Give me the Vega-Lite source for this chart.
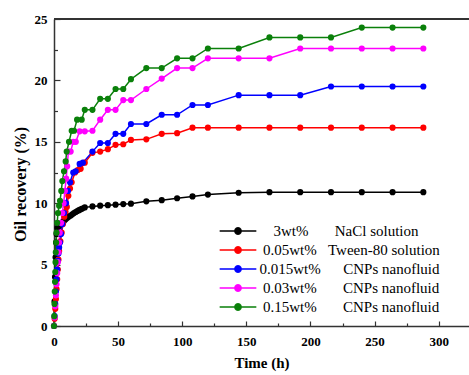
{
  "$schema": "https://vega.github.io/schema/vega-lite/v6.json",
  "width": 415,
  "height": 307,
  "autosize": {"type": "none"},
  "padding": {"left": 54, "top": 19, "right": 0, "bottom": 49},
  "background": "white",
  "config": {
    "view": {"stroke": null},
    "axis": {
      "labelFont": "Liberation Serif", "titleFont": "Liberation Serif",
      "labelFontWeight": "bold", "titleFontWeight": "bold",
      "labelColor": "#000", "titleColor": "#000",
      "domainColor": "#333", "tickColor": "#333", "domainWidth": 1.5, "tickWidth": 1.2,
      "grid": false, "labelFontSize": 13
    },
    "legend": {
      "orient": "none", "legendX": 176, "legendY": 204, "title": null, "padding": 0,
      "symbolType": "M-2.62,0H2.62M0.45,0L0.39,0.225L0.225,0.39L0,0.45L-0.225,0.39L-0.39,0.225L-0.45,0L-0.39,-0.225L-0.225,-0.39L0,-0.45L0.225,-0.39L0.39,-0.225Z",
      "symbolSize": 196, "symbolStrokeWidth": 1.5,
      "labelFont": "Liberation Serif", "labelFontSize": 15, "labelColor": "#000", "labelOffset": 13.5, "labelLimit": 400,
      "rowPadding": 3
    }
  },
  "datasets": {
    "rec": [
      {"s":"3wt% NaCl solution","t":0,"v":0},{"s":"3wt% NaCl solution","t":0.4,"v":2.0},{"s":"3wt% NaCl solution","t":0.8,"v":4.0},{"s":"3wt% NaCl solution","t":1.2,"v":5.6},{"s":"3wt% NaCl solution","t":1.6,"v":6.8},{"s":"3wt% NaCl solution","t":2,"v":7.5},{"s":"3wt% NaCl solution","t":2.6,"v":8.0},{"s":"3wt% NaCl solution","t":3.9,"v":8.15},{"s":"3wt% NaCl solution","t":5.2,"v":8.3},{"s":"3wt% NaCl solution","t":6.5,"v":8.45},{"s":"3wt% NaCl solution","t":7.8,"v":8.55},{"s":"3wt% NaCl solution","t":9.1,"v":8.7},{"s":"3wt% NaCl solution","t":10.4,"v":8.82},{"s":"3wt% NaCl solution","t":11.7,"v":8.92},{"s":"3wt% NaCl solution","t":13,"v":9.0},{"s":"3wt% NaCl solution","t":14.3,"v":9.1},{"s":"3wt% NaCl solution","t":15.6,"v":9.2},{"s":"3wt% NaCl solution","t":16.9,"v":9.28},{"s":"3wt% NaCl solution","t":18.2,"v":9.36},{"s":"3wt% NaCl solution","t":19.5,"v":9.43},{"s":"3wt% NaCl solution","t":20.8,"v":9.5},{"s":"3wt% NaCl solution","t":22.1,"v":9.56},{"s":"3wt% NaCl solution","t":24,"v":9.66},{"s":"3wt% NaCl solution","t":30,"v":9.74},{"s":"3wt% NaCl solution","t":36,"v":9.8},{"s":"3wt% NaCl solution","t":42,"v":9.84},{"s":"3wt% NaCl solution","t":48,"v":9.88},{"s":"3wt% NaCl solution","t":54,"v":9.93},{"s":"3wt% NaCl solution","t":60,"v":9.96},{"s":"3wt% NaCl solution","t":72,"v":10.15},{"s":"3wt% NaCl solution","t":84,"v":10.25},{"s":"3wt% NaCl solution","t":96,"v":10.4},{"s":"3wt% NaCl solution","t":108,"v":10.55},{"s":"3wt% NaCl solution","t":120,"v":10.7},{"s":"3wt% NaCl solution","t":144,"v":10.85},{"s":"3wt% NaCl solution","t":168,"v":10.9},{"s":"3wt% NaCl solution","t":192,"v":10.9},{"s":"3wt% NaCl solution","t":216,"v":10.9},{"s":"3wt% NaCl solution","t":240,"v":10.9},{"s":"3wt% NaCl solution","t":264,"v":10.9},{"s":"3wt% NaCl solution","t":288,"v":10.9},

      {"s":"0.05wt% Tween-80 solution","t":0,"v":0},{"s":"0.05wt% Tween-80 solution","t":0.5,"v":0.6},{"s":"0.05wt% Tween-80 solution","t":1,"v":1.4},{"s":"0.05wt% Tween-80 solution","t":1.5,"v":2.2},{"s":"0.05wt% Tween-80 solution","t":2,"v":3.0},{"s":"0.05wt% Tween-80 solution","t":2.5,"v":3.8},{"s":"0.05wt% Tween-80 solution","t":3,"v":4.6},{"s":"0.05wt% Tween-80 solution","t":3.5,"v":5.4},{"s":"0.05wt% Tween-80 solution","t":4,"v":6.1},{"s":"0.05wt% Tween-80 solution","t":5,"v":6.9},{"s":"0.05wt% Tween-80 solution","t":6,"v":7.6},{"s":"0.05wt% Tween-80 solution","t":7,"v":8.3},{"s":"0.05wt% Tween-80 solution","t":8,"v":8.9},{"s":"0.05wt% Tween-80 solution","t":9,"v":9.3},{"s":"0.05wt% Tween-80 solution","t":10,"v":9.7},{"s":"0.05wt% Tween-80 solution","t":11.2,"v":10.6},{"s":"0.05wt% Tween-80 solution","t":12.5,"v":11.2},{"s":"0.05wt% Tween-80 solution","t":13.8,"v":11.7},{"s":"0.05wt% Tween-80 solution","t":16.4,"v":12.5},{"s":"0.05wt% Tween-80 solution","t":18.5,"v":12.7},{"s":"0.05wt% Tween-80 solution","t":20.8,"v":12.8},{"s":"0.05wt% Tween-80 solution","t":24,"v":13.3},{"s":"0.05wt% Tween-80 solution","t":30,"v":14.1},{"s":"0.05wt% Tween-80 solution","t":36,"v":14.2},{"s":"0.05wt% Tween-80 solution","t":42,"v":14.4},{"s":"0.05wt% Tween-80 solution","t":48,"v":14.75},{"s":"0.05wt% Tween-80 solution","t":54,"v":14.8},{"s":"0.05wt% Tween-80 solution","t":60,"v":15.15},{"s":"0.05wt% Tween-80 solution","t":72,"v":15.2},{"s":"0.05wt% Tween-80 solution","t":84,"v":15.65},{"s":"0.05wt% Tween-80 solution","t":96,"v":15.7},{"s":"0.05wt% Tween-80 solution","t":108,"v":16.15},{"s":"0.05wt% Tween-80 solution","t":120,"v":16.15},{"s":"0.05wt% Tween-80 solution","t":144,"v":16.15},{"s":"0.05wt% Tween-80 solution","t":168,"v":16.15},{"s":"0.05wt% Tween-80 solution","t":192,"v":16.15},{"s":"0.05wt% Tween-80 solution","t":216,"v":16.15},{"s":"0.05wt% Tween-80 solution","t":240,"v":16.15},{"s":"0.05wt% Tween-80 solution","t":264,"v":16.15},{"s":"0.05wt% Tween-80 solution","t":288,"v":16.15},

      {"s":"0.015wt% CNPs nanofluid","t":0,"v":0},{"s":"0.015wt% CNPs nanofluid","t":0.5,"v":0.8},{"s":"0.015wt% CNPs nanofluid","t":1,"v":1.8},{"s":"0.015wt% CNPs nanofluid","t":1.5,"v":2.8},{"s":"0.015wt% CNPs nanofluid","t":2,"v":3.8},{"s":"0.015wt% CNPs nanofluid","t":2.5,"v":4.6},{"s":"0.015wt% CNPs nanofluid","t":3,"v":5.3},{"s":"0.015wt% CNPs nanofluid","t":3.5,"v":5.9},{"s":"0.015wt% CNPs nanofluid","t":4,"v":6.4},{"s":"0.015wt% CNPs nanofluid","t":4.7,"v":6.8},{"s":"0.015wt% CNPs nanofluid","t":5.5,"v":7.5},{"s":"0.015wt% CNPs nanofluid","t":6.5,"v":8.3},{"s":"0.015wt% CNPs nanofluid","t":7.8,"v":9.2},{"s":"0.015wt% CNPs nanofluid","t":9.4,"v":10.0},{"s":"0.015wt% CNPs nanofluid","t":10.9,"v":11.0},{"s":"0.015wt% CNPs nanofluid","t":12.5,"v":11.7},{"s":"0.015wt% CNPs nanofluid","t":15,"v":12.5},{"s":"0.015wt% CNPs nanofluid","t":16.9,"v":12.6},{"s":"0.015wt% CNPs nanofluid","t":20,"v":13.2},{"s":"0.015wt% CNPs nanofluid","t":22.5,"v":13.3},{"s":"0.015wt% CNPs nanofluid","t":30,"v":14.2},{"s":"0.015wt% CNPs nanofluid","t":36,"v":14.9},{"s":"0.015wt% CNPs nanofluid","t":42,"v":14.9},{"s":"0.015wt% CNPs nanofluid","t":48,"v":15.65},{"s":"0.015wt% CNPs nanofluid","t":54,"v":15.65},{"s":"0.015wt% CNPs nanofluid","t":60,"v":16.45},{"s":"0.015wt% CNPs nanofluid","t":72,"v":16.45},{"s":"0.015wt% CNPs nanofluid","t":84,"v":17.2},{"s":"0.015wt% CNPs nanofluid","t":96,"v":17.2},{"s":"0.015wt% CNPs nanofluid","t":108,"v":18.0},{"s":"0.015wt% CNPs nanofluid","t":120,"v":18.0},{"s":"0.015wt% CNPs nanofluid","t":144,"v":18.8},{"s":"0.015wt% CNPs nanofluid","t":168,"v":18.8},{"s":"0.015wt% CNPs nanofluid","t":192,"v":18.8},{"s":"0.015wt% CNPs nanofluid","t":216,"v":19.5},{"s":"0.015wt% CNPs nanofluid","t":240,"v":19.5},{"s":"0.015wt% CNPs nanofluid","t":264,"v":19.5},{"s":"0.015wt% CNPs nanofluid","t":288,"v":19.5},

      {"s":"0.03wt% CNPs nanofluid","t":0,"v":0},{"s":"0.03wt% CNPs nanofluid","t":0.5,"v":0.7},{"s":"0.03wt% CNPs nanofluid","t":1,"v":1.6},{"s":"0.03wt% CNPs nanofluid","t":1.5,"v":2.5},{"s":"0.03wt% CNPs nanofluid","t":2,"v":3.4},{"s":"0.03wt% CNPs nanofluid","t":2.5,"v":4.3},{"s":"0.03wt% CNPs nanofluid","t":3,"v":5.2},{"s":"0.03wt% CNPs nanofluid","t":3.5,"v":6.0},{"s":"0.03wt% CNPs nanofluid","t":4,"v":6.8},{"s":"0.03wt% CNPs nanofluid","t":4.5,"v":7.6},{"s":"0.03wt% CNPs nanofluid","t":5.5,"v":8.4},{"s":"0.03wt% CNPs nanofluid","t":6.5,"v":9.2},{"s":"0.03wt% CNPs nanofluid","t":7.5,"v":10.0},{"s":"0.03wt% CNPs nanofluid","t":8.5,"v":11.0},{"s":"0.03wt% CNPs nanofluid","t":9.5,"v":12.0},{"s":"0.03wt% CNPs nanofluid","t":10.3,"v":13.0},{"s":"0.03wt% CNPs nanofluid","t":11.2,"v":14.2},{"s":"0.03wt% CNPs nanofluid","t":13,"v":14.2},{"s":"0.03wt% CNPs nanofluid","t":15,"v":15.0},{"s":"0.03wt% CNPs nanofluid","t":17,"v":15.0},{"s":"0.03wt% CNPs nanofluid","t":20,"v":15.85},{"s":"0.03wt% CNPs nanofluid","t":24,"v":15.85},{"s":"0.03wt% CNPs nanofluid","t":30,"v":15.9},{"s":"0.03wt% CNPs nanofluid","t":36,"v":16.8},{"s":"0.03wt% CNPs nanofluid","t":42,"v":17.6},{"s":"0.03wt% CNPs nanofluid","t":48,"v":17.6},{"s":"0.03wt% CNPs nanofluid","t":54,"v":18.4},{"s":"0.03wt% CNPs nanofluid","t":60,"v":18.4},{"s":"0.03wt% CNPs nanofluid","t":72,"v":19.3},{"s":"0.03wt% CNPs nanofluid","t":84,"v":20.15},{"s":"0.03wt% CNPs nanofluid","t":96,"v":21.0},{"s":"0.03wt% CNPs nanofluid","t":108,"v":21.0},{"s":"0.03wt% CNPs nanofluid","t":120,"v":21.8},{"s":"0.03wt% CNPs nanofluid","t":144,"v":21.8},{"s":"0.03wt% CNPs nanofluid","t":168,"v":21.8},{"s":"0.03wt% CNPs nanofluid","t":192,"v":22.6},{"s":"0.03wt% CNPs nanofluid","t":216,"v":22.6},{"s":"0.03wt% CNPs nanofluid","t":240,"v":22.6},{"s":"0.03wt% CNPs nanofluid","t":264,"v":22.6},{"s":"0.03wt% CNPs nanofluid","t":288,"v":22.6},

      {"s":"0.15wt% CNPs nanofluid","t":0,"v":0},{"s":"0.15wt% CNPs nanofluid","t":0.2,"v":0.8},{"s":"0.15wt% CNPs nanofluid","t":0.4,"v":1.8},{"s":"0.15wt% CNPs nanofluid","t":0.6,"v":2.8},{"s":"0.15wt% CNPs nanofluid","t":0.8,"v":3.6},{"s":"0.15wt% CNPs nanofluid","t":1,"v":4.4},{"s":"0.15wt% CNPs nanofluid","t":1.2,"v":5.2},{"s":"0.15wt% CNPs nanofluid","t":1.4,"v":6.0},{"s":"0.15wt% CNPs nanofluid","t":1.7,"v":6.8},{"s":"0.15wt% CNPs nanofluid","t":2,"v":7.6},{"s":"0.15wt% CNPs nanofluid","t":2.5,"v":8.4},{"s":"0.15wt% CNPs nanofluid","t":3.1,"v":9.2},{"s":"0.15wt% CNPs nanofluid","t":4,"v":9.8},{"s":"0.15wt% CNPs nanofluid","t":4.7,"v":10.2},{"s":"0.15wt% CNPs nanofluid","t":5.7,"v":11.0},{"s":"0.15wt% CNPs nanofluid","t":6.5,"v":11.8},{"s":"0.15wt% CNPs nanofluid","t":7.8,"v":12.6},{"s":"0.15wt% CNPs nanofluid","t":9.1,"v":13.4},{"s":"0.15wt% CNPs nanofluid","t":9.9,"v":14.2},{"s":"0.15wt% CNPs nanofluid","t":11.7,"v":15.0},{"s":"0.15wt% CNPs nanofluid","t":13.8,"v":15.9},{"s":"0.15wt% CNPs nanofluid","t":15.6,"v":15.9},{"s":"0.15wt% CNPs nanofluid","t":18,"v":16.8},{"s":"0.15wt% CNPs nanofluid","t":21.6,"v":16.8},{"s":"0.15wt% CNPs nanofluid","t":24,"v":17.6},{"s":"0.15wt% CNPs nanofluid","t":30,"v":17.6},{"s":"0.15wt% CNPs nanofluid","t":36,"v":18.5},{"s":"0.15wt% CNPs nanofluid","t":42,"v":18.5},{"s":"0.15wt% CNPs nanofluid","t":48,"v":19.3},{"s":"0.15wt% CNPs nanofluid","t":54,"v":19.3},{"s":"0.15wt% CNPs nanofluid","t":60,"v":20.1},{"s":"0.15wt% CNPs nanofluid","t":72,"v":21.0},{"s":"0.15wt% CNPs nanofluid","t":84,"v":21.0},{"s":"0.15wt% CNPs nanofluid","t":96,"v":21.8},{"s":"0.15wt% CNPs nanofluid","t":108,"v":21.8},{"s":"0.15wt% CNPs nanofluid","t":120,"v":22.6},{"s":"0.15wt% CNPs nanofluid","t":144,"v":22.6},{"s":"0.15wt% CNPs nanofluid","t":168,"v":23.5},{"s":"0.15wt% CNPs nanofluid","t":192,"v":23.5},{"s":"0.15wt% CNPs nanofluid","t":216,"v":23.5},{"s":"0.15wt% CNPs nanofluid","t":240,"v":24.3},{"s":"0.15wt% CNPs nanofluid","t":264,"v":24.3},{"s":"0.15wt% CNPs nanofluid","t":288,"v":24.3}
    ]
  },
  "data": {"name": "rec"},
  "resolve": {"axis": {"x": "independent", "y": "independent"}},
  "layer": [
    {
      "mark": {"type": "line", "strokeWidth": 1.5},
      "encoding": {
        "x": {"field": "t", "type": "quantitative",
          "scale": {"domain": [0, 323.6], "nice": false, "zero": false},
          "axis": {"orient": "bottom", "values": [0, 50, 100, 150, 200, 250, 300], "tickSize": -5, "labelPadding": 14, "labelFlush": false,
            "title": "Time (h)", "titleFontSize": 15, "titleY": 41, "titleBaseline": "alphabetic"}},
        "y": {"field": "v", "type": "quantitative",
          "scale": {"domain": [0, 25], "nice": false},
          "axis": {"orient": "left", "values": [0, 5, 10, 15, 20, 25], "tickSize": -6, "labelPadding": 13, "labelFlush": false,
            "title": "Oil recovery (%)", "titleFontSize": 16, "titleX": -29, "titleY": 165, "titleAngle": -90, "titleBaseline": "alphabetic", "titleAlign": "center"}},
        "color": {"field": "s", "type": "nominal",
          "scale": {"domain": ["3wt% NaCl solution", "0.05wt% Tween-80 solution", "0.015wt% CNPs nanofluid", "0.03wt% CNPs nanofluid", "0.15wt% CNPs nanofluid"],
                    "range": ["#000000", "#ff0000", "#0000ff", "#ff00ff", "#0a800a"]},
          "legend": {
            "labelExpr": "datum.label == '3wt% NaCl solution' ? '3wt%\u00a0\u00a0\u00a0\u00a0\u00a0\u00a0\u00a0NaCl solution' : datum.label == '0.05wt% Tween-80 solution' ? '0.05wt%\u00a0\u00a0\u00a0Tween-80 solution' : datum.label == '0.015wt% CNPs nanofluid' ? '0.015wt%\u00a0\u00a0\u00a0\u00a0\u00a0\u00a0CNPs nanofluid' : datum.label == '0.03wt% CNPs nanofluid' ? '0.03wt%\u00a0\u00a0\u00a0\u00a0\u00a0\u00a0\u00a0CNPs nanofluid' : '0.15wt%\u00a0\u00a0\u00a0\u00a0\u00a0\u00a0\u00a0CNPs nanofluid'",
            "encode": {
              "symbols": {"update": {"fill": {"scale": "color", "field": "value"}, "stroke": {"scale": "color", "field": "value"}, "opacity": {"value": 1}}},
              "labels": {"update": {"dx": {"signal": "datum.value == '3wt% NaCl solution' ? 14 : datum.value == '0.015wt% CNPs nanofluid' ? 0 : 3.5"}}}
            }
          }
        }
      }
    },
    {
      "mark": {"type": "point", "filled": true, "size": 38, "opacity": 1},
      "encoding": {
        "x": {"field": "t", "type": "quantitative",
          "axis": {"orient": "bottom", "values": [25, 75, 125, 175, 225, 275], "tickSize": -3, "labels": false, "domain": false, "title": null}},
        "y": {"field": "v", "type": "quantitative",
          "axis": {"orient": "left", "values": [2.5, 7.5, 12.5, 17.5, 22.5], "tickSize": -3.5, "labels": false, "domain": false, "title": null}},
        "color": {"field": "s", "type": "nominal", "legend": null}
      }
    },
    {
      "mark": {"type": "rule", "color": "#333", "strokeWidth": 1.5},
      "encoding": {"y": {"datum": 25, "type": "quantitative", "axis": null}}
    }
  ]
}
